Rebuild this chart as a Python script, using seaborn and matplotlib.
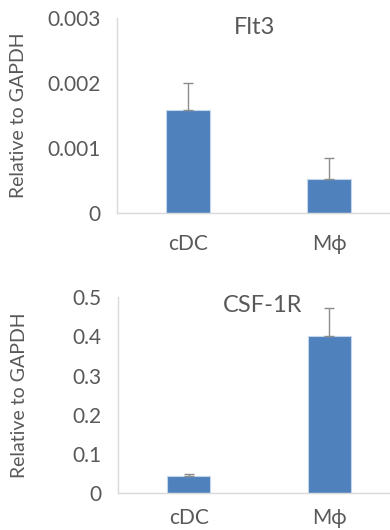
import matplotlib
matplotlib.use('Agg')
import matplotlib.pyplot as plt
import seaborn as sns
import pandas as pd

cells = ['cDC', 'Mϕ']
flt3_vals = [0.00158, 0.00052]
flt3_err = [0.00042, 0.00032]
csf1r_vals = [0.042, 0.400]
csf1r_err = [0.007, 0.072]

bar_color = '#4F81BD'
text_color = '#595959'
spine_color = '#D9D9D9'
err_color = '#8C8C8C'

sns.set_theme(style='white')
plt.rcParams['font.family'] = ['Lato', 'DejaVu Sans']


def draw_panel(ax, vals, errs, title, ylim, yticks, ytick_labels, title_xy, xpad):
    df = pd.DataFrame({'cell': cells, 'value': vals})
    sns.barplot(data=df, x='cell', y='value', color=bar_color, width=0.31,
                errorbar=None, saturation=1, edgecolor='#C5D5EA', linewidth=0.8, ax=ax)
    ax.errorbar(range(len(cells)), vals, yerr=[[0] * len(errs), errs], fmt='none',
                ecolor=err_color, elinewidth=1, capsize=3.5, capthick=1)

    ax.set_xlim(-0.5, 1.43)
    ax.set_ylim(*ylim)
    ax.set_yticks(yticks)
    ax.set_yticklabels(ytick_labels)
    ax.set_xlabel('')
    ax.set_ylabel('Relative to GAPDH', fontsize=14, color=text_color)
    ax.yaxis.set_label_coords(-0.33, 0.5)
    ax.tick_params(axis='y', length=0, pad=12, labelsize=15, labelcolor=text_color)
    ax.tick_params(axis='x', length=0, pad=xpad, labelsize=15, labelcolor=text_color)

    for spine in ['top', 'right']:
        ax.spines[spine].set_visible(False)
    for spine in ['left', 'bottom']:
        ax.spines[spine].set_color(spine_color)
        ax.spines[spine].set_linewidth(1)

    ax.text(title_xy[0], title_xy[1], title, transform=ax.transAxes, ha='center', va='center',
            fontsize=17, color=text_color)


fig = plt.figure(figsize=(3.9, 5.3), dpi=100)
ax1 = fig.add_axes([0.300, 0.598, 0.70, 0.368])
ax2 = fig.add_axes([0.303, 0.070, 0.697, 0.369])

draw_panel(ax1, flt3_vals, flt3_err, 'Flt3', (0, 0.003), [0, 0.001, 0.002, 0.003],
           ['0', '0.001', '0.002', '0.003'], (0.505, 0.95), 15)
draw_panel(ax2, csf1r_vals, csf1r_err, 'CSF-1R', (0, 0.5), [0, 0.1, 0.2, 0.3, 0.4, 0.5],
           ['0', '0.1', '0.2', '0.3', '0.4', '0.5'], (0.53, 0.96), 11)

fig.savefig('out.png', dpi=100, facecolor='white')
